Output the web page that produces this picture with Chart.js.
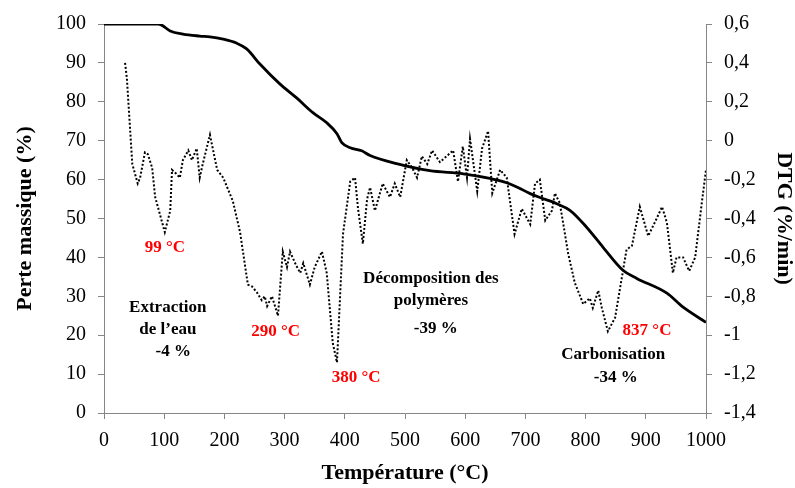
<!DOCTYPE html>
<html><head><meta charset="utf-8">
<script src="https://cdn.jsdelivr.net/npm/chart.js@4/dist/chart.umd.min.js"></script>
<style>html,body{margin:0;padding:0;background:#fff}canvas{display:block}</style>
</head><body>
<canvas id="c" width="795" height="488"></canvas>
<script>
// TG curve: mass (%) vs temperature (°C)
const tgTemp = [0, 50, 90, 96, 110, 131, 159, 176, 198, 220, 237, 259, 292, 320, 347, 370, 387, 395, 409, 428, 442, 486, 541, 597, 641, 669, 691, 708, 724, 752, 774, 802, 829, 862, 885, 935, 962, 1000];
const tgMass = [100, 100, 100, 99.7, 98.2, 97.4, 96.9, 96.7, 96.1, 95.1, 93.6, 89.7, 84.6, 81, 77.2, 74.6, 71.8, 69.5, 68.2, 67.4, 66.2, 64.1, 62.3, 61.5, 60.3, 59.2, 57.7, 56.4, 55.4, 53.8, 52.1, 47.7, 42.6, 36.7, 34.6, 30.8, 27.2, 23.3];

// DTG curve: rate (%/min) vs temperature (°C)
const dtgTemp = [35, 38, 47, 56, 60, 68, 73, 80, 85, 93, 101, 110, 113, 120, 126, 131, 140, 146, 154, 159, 164, 176, 188, 198, 214, 226, 239, 246, 254, 262, 267, 271, 279, 289, 297, 304, 309, 319, 326, 331, 342, 350, 362, 370, 380, 387, 397, 409, 417, 422, 430, 437, 442, 450, 463, 475, 483, 492, 503, 512, 520, 528, 537, 545, 558, 569, 580, 588, 596, 603, 608, 620, 628, 638, 645, 658, 669, 682, 694, 708, 716, 724, 733, 744, 749, 757, 762, 771, 782, 791, 796, 807, 812, 821, 827, 837, 849, 868, 877, 890, 904, 915, 927, 935, 945, 951, 962, 972, 982, 993, 1000];
const dtgRate = [0.40, 0.32, -0.12, -0.22, -0.19, -0.06, -0.07, -0.14, -0.29, -0.38, -0.47, -0.36, -0.15, -0.17, -0.19, -0.10, -0.05, -0.10, -0.04, -0.19, -0.12, 0.03, -0.15, -0.19, -0.31, -0.47, -0.74, -0.75, -0.78, -0.82, -0.80, -0.85, -0.80, -0.90, -0.57, -0.65, -0.57, -0.64, -0.68, -0.63, -0.74, -0.65, -0.57, -0.68, -1.04, -1.14, -0.48, -0.21, -0.19, -0.35, -0.53, -0.30, -0.24, -0.36, -0.22, -0.29, -0.22, -0.29, -0.10, -0.14, -0.19, -0.08, -0.12, -0.05, -0.11, -0.08, -0.05, -0.21, -0.03, -0.19, 0.01, -0.26, -0.04, 0.05, -0.27, -0.15, -0.19, -0.48, -0.35, -0.43, -0.22, -0.20, -0.41, -0.36, -0.27, -0.32, -0.41, -0.58, -0.73, -0.80, -0.84, -0.81, -0.86, -0.77, -0.86, -0.98, -0.91, -0.56, -0.54, -0.34, -0.49, -0.42, -0.34, -0.42, -0.68, -0.60, -0.60, -0.67, -0.60, -0.32, -0.15];

// Tick values and labels
const xTicks = [0, 100, 200, 300, 400, 500, 600, 700, 800, 900, 1000];
const leftTicks = [0, 10, 20, 30, 40, 50, 60, 70, 80, 90, 100];
const rightTicks = [-1.4, -1.2, -1.0, -0.8, -0.6, -0.4, -0.2, 0, 0.2, 0.4, 0.6];
const rightTickLabels = ['-1,4', '-1,2', '-1', '-0,8', '-0,6', '-0,4', '-0,2', '0', '0,2', '0,4', '0,6'];

// Text annotations (temperature, mass % on left axis)
const annotations = [
  {text: '99 °C', t: 101, m: 42.6, color: '#ff0000'},
  {text: 'Extraction', t: 106, m: 27.2, color: '#000000'},
  {text: 'de l\u2019eau', t: 106, m: 21.5, color: '#000000'},
  {text: '-4 %', t: 115, m: 15.8, color: '#000000'},
  {text: '290 °C', t: 285, m: 20.8, color: '#ff0000'},
  {text: '380 °C', t: 419, m: 9.2, color: '#ff0000'},
  {text: 'Décomposition des', t: 543, m: 34.6, color: '#000000'},
  {text: 'polymères', t: 543, m: 29.0, color: '#000000'},
  {text: '-39 %', t: 551, m: 21.8, color: '#000000'},
  {text: '837 °C', t: 902, m: 21.3, color: '#ff0000'},
  {text: 'Carbonisation', t: 846, m: 15.1, color: '#000000'},
  {text: '-34 %', t: 850, m: 9.2, color: '#000000'}
];

const FAMILY = '"Liberation Serif", "Times New Roman", serif';
Chart.defaults.font.family = FAMILY;
const AXIS = '#868686';

const annotationPlugin = {
  id: 'annot',
  afterDatasetsDraw(chart) {
    const {ctx, scales} = chart;
    ctx.save();
    ctx.font = 'bold 17px ' + FAMILY;
    ctx.textAlign = 'center';
    ctx.textBaseline = 'middle';
    annotations.forEach(a => {
      ctx.fillStyle = a.color;
      ctx.fillText(a.text, scales.x.getPixelForValue(a.t), scales.y.getPixelForValue(a.m));
    });
    ctx.restore();
  }
};

const tickFont = {size: 20};
const titleFont = {size: 22, weight: 'bold'};

new Chart(document.getElementById('c'), {
  type: 'line',
  data: {
    datasets: [
      {
        label: 'DTG',
        data: dtgTemp.map((t, i) => ({x: t, y: dtgRate[i]})),
        yAxisID: 'y2',
        borderColor: '#000',
        borderWidth: 2,
        borderDash: [2, 2],
        pointRadius: 0,
        tension: 0,
        fill: false
      },
      {
        label: 'TG',
        data: tgTemp.map((t, i) => ({x: t, y: tgMass[i]})),
        yAxisID: 'y',
        borderColor: '#000',
        borderWidth: 2.8,
        pointRadius: 0,
        cubicInterpolationMode: 'monotone',
        fill: false
      }
    ]
  },
  options: {
    responsive: false,
    animation: false,
    layout: {padding: {top: 23, left: 0, right: 0, bottom: 0}},
    plugins: {legend: {display: false}, tooltip: {enabled: false}},
    scales: {
      x: {
        type: 'linear', min: 0, max: 1000,
        afterBuildTicks: s => { s.ticks = xTicks.map(v => ({value: v})); },
        afterFit: s => { s.height = 75; },
        grid: {drawOnChartArea: false, drawTicks: true, tickLength: 6, color: AXIS},
        border: {color: AXIS, width: 1},
        ticks: {font: tickFont, color: '#000', padding: 10, maxRotation: 0, autoSkip: false, callback: v => String(v)},
        title: {display: true, text: 'Température (°C)', font: titleFont, color: '#000', padding: {top: 0, bottom: 1}}
      },
      y: {
        type: 'linear', position: 'left', min: 0, max: 100,
        afterBuildTicks: s => { s.ticks = leftTicks.map(v => ({value: v})); },
        afterFit: s => { s.width = 104; },
        grid: {drawOnChartArea: false, drawTicks: true, tickLength: 6, color: AXIS},
        border: {color: AXIS, width: 1},
        ticks: {font: tickFont, color: '#000', padding: 12, callback: v => String(v)},
        title: {display: true, text: 'Perte massique (%)', font: titleFont, color: '#000', padding: {top: 12, bottom: 0}}
      },
      y2: {
        type: 'linear', position: 'right', min: -1.4, max: 0.6,
        afterBuildTicks: s => { s.ticks = rightTicks.map(v => ({value: v})); },
        afterFit: s => { s.width = 89; },
        grid: {drawOnChartArea: false, drawTicks: true, tickLength: 6, color: AXIS},
        border: {color: AXIS, width: 1},
        ticks: {
          font: tickFont, color: '#000', padding: 12,
          callback: (v) => {
            const i = rightTicks.findIndex(r => Math.abs(r - v) < 1e-6);
            return i >= 0 ? rightTickLabels[i] : '';
          }
        },
        title: {display: true, text: 'DTG (%/min)', font: titleFont, color: '#000', padding: {top: -2, bottom: 0}}
      }
    }
  },
  plugins: [annotationPlugin]
});
</script>
</body></html>
